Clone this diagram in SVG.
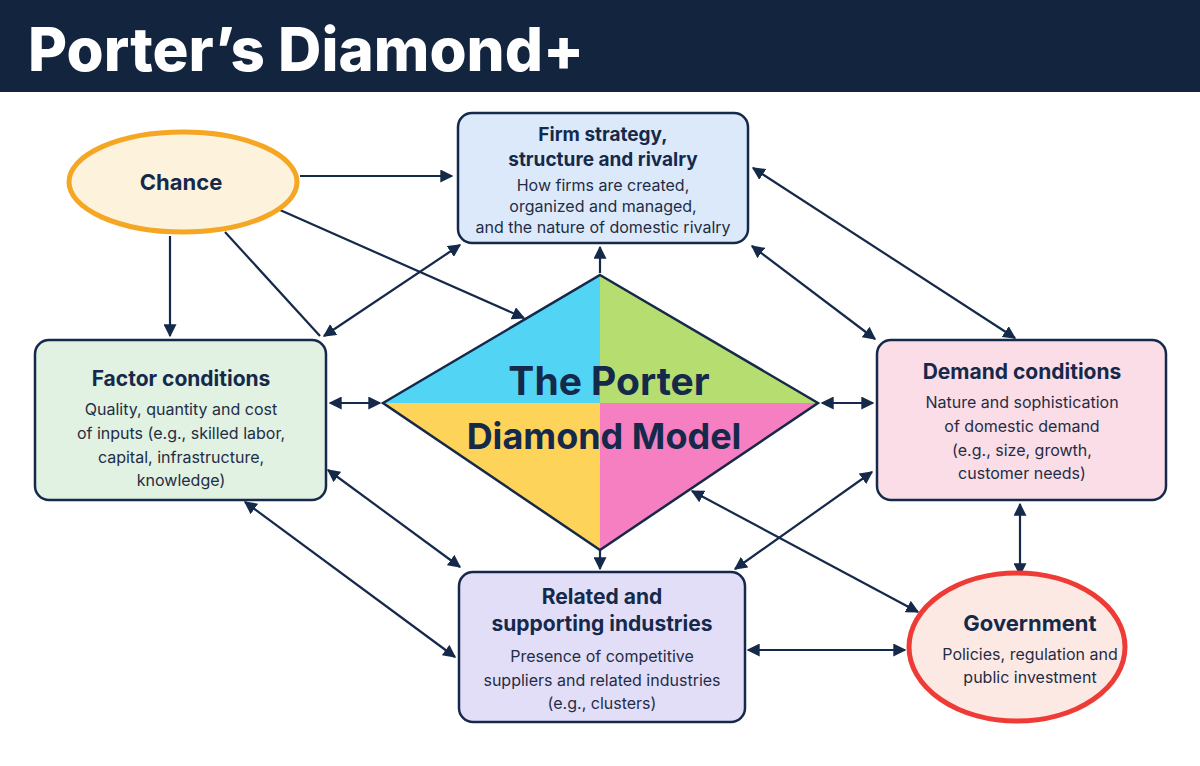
<svg xmlns="http://www.w3.org/2000/svg" width="1200" height="766" viewBox="0 0 1200 766">
<defs>
<marker id="ah" viewBox="0 0 10 10" refX="9" refY="5" markerWidth="13" markerHeight="13" markerUnits="userSpaceOnUse" orient="auto-start-reverse"><path d="M0,0 L10,5 L0,10 z" fill="#15294a"/></marker>
<style>
.box{stroke:#15294a;stroke-width:2.5}
.t{font-family:Inter,"Liberation Sans",sans-serif;font-weight:700;fill:#15294a;text-anchor:middle}
.d{font-family:Inter,"Liberation Sans",sans-serif;fill:#1f2d45;text-anchor:middle;font-size:16px}
.c line{stroke:#15294a;stroke-width:2.2;marker-end:url(#ah)}
.c line.b{marker-start:url(#ah)}
</style>
</defs>
<rect width="1200" height="766" fill="#ffffff"/>
<rect width="1200" height="92" fill="#13243f"/>
<text x="28" y="71" font-family="Inter,'Liberation Sans',sans-serif" font-weight="800" font-size="60" fill="#ffffff">Porter’s Diamond+</text>
<g class="c">
<line x1="300" y1="176" x2="452" y2="176"/>
<line x1="170" y1="236" x2="170" y2="336"/>
<line x1="225" y1="232" x2="320" y2="336" style="marker-end:none"/>
<line x1="280" y1="210" x2="524" y2="318"/>
<line class="b" x1="324" y1="336" x2="460" y2="245"/>
<line class="b" x1="330" y1="403" x2="380" y2="403"/>
<line class="b" x1="822" y1="403" x2="873" y2="403"/>
<line x1="600" y1="273" x2="600" y2="247"/>
<line x1="600" y1="550" x2="600" y2="569"/>
<line class="b" x1="752" y1="246" x2="875" y2="339"/>
<line class="b" x1="753" y1="168" x2="1015" y2="338"/>
<line class="b" x1="328" y1="470" x2="460" y2="567"/>
<line class="b" x1="245" y1="502" x2="455" y2="657"/>
<line class="b" x1="872" y1="472" x2="735" y2="569"/>
<line class="b" x1="692" y1="491" x2="918" y2="612"/>
<line class="b" x1="1020" y1="504" x2="1020" y2="575"/>
<line class="b" x1="748" y1="650" x2="905" y2="650"/>
</g>
<g id="diamond">
<polygon points="600,275 383,403 600,403" fill="#52d4f5"/>
<polygon points="600,275 818,403 600,403" fill="#b6dd70"/>
<polygon points="383,403 600,550 600,403" fill="#fdd35a"/>
<polygon points="818,403 600,550 600,403" fill="#f67fc1"/>
<polygon points="600,275 818,403 600,550 383,403" fill="none" stroke="#15294a" stroke-width="2.5"/>
<text class="t" x="609" y="395" font-size="39">The Porter</text>
<text class="t" x="604" y="449" font-size="36">Diamond Model</text>
</g>
<g id="chance">
<ellipse cx="183" cy="182" rx="114" ry="50" fill="#fdf3dc" stroke="#f5a623" stroke-width="5"/>
<text class="t" x="181" y="190" font-size="22">Chance</text>
</g>
<g id="firm">
<rect class="box" x="458" y="113" width="290" height="130" rx="14" fill="#dce9fb"/>
<text class="t" x="603" y="141" font-size="19">Firm strategy,</text>
<text class="t" x="603" y="166" font-size="19">structure and rivalry</text>
<text class="d" x="603" y="191">How firms are created,</text>
<text class="d" x="603" y="212">organized and managed,</text>
<text class="d" x="603" y="233">and the nature of domestic rivalry</text>
</g>
<g id="factor">
<rect class="box" x="35" y="340" width="291" height="160" rx="14" fill="#e1f1e2"/>
<text class="t" x="181" y="386" font-size="21">Factor conditions</text>
<text class="d" x="181" y="415" font-size="17">Quality, quantity and cost</text>
<text class="d" x="181" y="439" font-size="17">of inputs (e.g., skilled labor,</text>
<text class="d" x="181" y="463" font-size="17">capital, infrastructure,</text>
<text class="d" x="181" y="486" font-size="17">knowledge)</text>
</g>
<g id="demand">
<rect class="box" x="877" y="340" width="289" height="160" rx="14" fill="#fbdde7"/>
<text class="t" x="1022" y="379" font-size="21">Demand conditions</text>
<text class="d" x="1022" y="408" font-size="17">Nature and sophistication</text>
<text class="d" x="1022" y="432" font-size="17">of domestic demand</text>
<text class="d" x="1022" y="456" font-size="17">(e.g., size, growth,</text>
<text class="d" x="1022" y="479" font-size="17">customer needs)</text>
</g>
<g id="related">
<rect class="box" x="459" y="572" width="286" height="150" rx="14" fill="#e3def8"/>
<text class="t" x="602" y="604" font-size="21">Related and</text>
<text class="t" x="602" y="631" font-size="21">supporting industries</text>
<text class="d" x="602" y="662" font-size="17">Presence of competitive</text>
<text class="d" x="602" y="686" font-size="17">suppliers and related industries</text>
<text class="d" x="602" y="709" font-size="17">(e.g., clusters)</text>
</g>
<g id="government">
<ellipse cx="1017" cy="647" rx="108" ry="74" fill="#fde9e4" stroke="#ef3b36" stroke-width="5"/>
<text class="t" x="1030" y="631" font-size="22">Government</text>
<text class="d" x="1030" y="660" font-size="16">Policies, regulation and</text>
<text class="d" x="1030" y="683" font-size="16">public investment</text>
</g>
</svg>
